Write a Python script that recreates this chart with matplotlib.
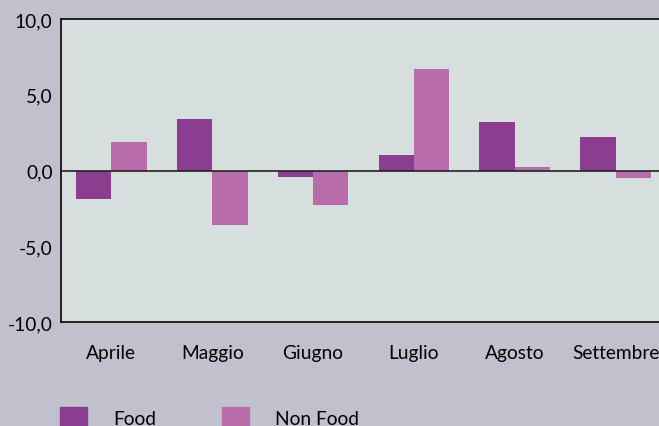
import numpy as np
import matplotlib.pyplot as plt
from matplotlib.patches import Patch

months = ['Aprile', 'Maggio', 'Giugno', 'Luglio', 'Agosto', 'Settembre']
food = [-1.9, 3.4, -0.45, 1.0, 3.2, 2.2]
non_food = [1.85, -3.6, -2.3, 6.7, 0.25, -0.5]
yticks = [-10, -5, 0, 5, 10]

plt.rcParams['font.family'] = ['Lato', 'DejaVu Sans']

W, H = 659, 427
fig = plt.figure(figsize=(W / 100, H / 100), dpi=100, facecolor='#C0C1CD')
# plot area runs off the right edge in the reference
ax = fig.add_axes([61 / W, 1 - 323 / H, (666 - 61) / W, (323 - 20) / H])
ax.set_facecolor('#D6DFDE')

x = np.arange(len(months))
w = 0.35
ax.bar(x - w / 2, food, w, color='#8B3D8F', zorder=2)
ax.bar(x + w / 2, non_food, w, color='#B86DAA', zorder=2)
ax.axhline(0, color='#222222', lw=1.2, zorder=3)

ax.set_xlim(-0.5, len(months) - 0.5)
ax.set_ylim(-10, 10)
ax.set_yticks(yticks)
ax.set_yticklabels([f'{v:.1f}'.replace('.', ',') for v in yticks])
ax.set_xticks(x)
ax.set_xticklabels(months)
ax.tick_params(length=0, labelsize=13.8, colors='black')
ax.tick_params(axis='x', pad=16)
ax.tick_params(axis='y', pad=6)
for s in ['left', 'bottom', 'top']:
    ax.spines[s].set_color('#111111')
    ax.spines[s].set_linewidth(1.3)
ax.spines['right'].set_visible(False)

handles = [Patch(color='#8B3D8F', label='Food'),
           Patch(color='#B86DAA', label='Non Food')]
fig.legend(handles=handles, loc='center left', bbox_to_anchor=(52 / W, 1 - 419 / H),
           ncol=2, frameon=False, fontsize=13.8, handlelength=1.45, handleheight=1.45,
           handletextpad=1.35, columnspacing=3.4, borderaxespad=0)

fig.savefig('out.png', dpi=100, facecolor=fig.get_facecolor())
